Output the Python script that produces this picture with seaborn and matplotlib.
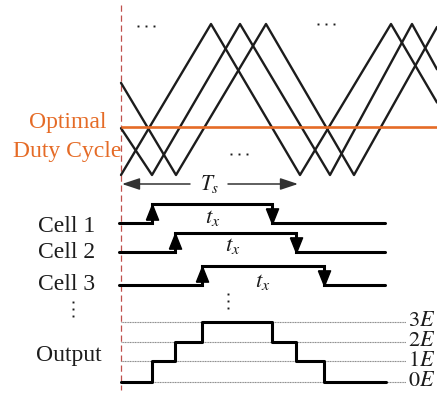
import numpy as np
import pandas as pd
import seaborn as sns
import matplotlib.pyplot as plt
from matplotlib.path import Path

sns.set_theme(style="white")
plt.rcParams['font.family'] = ['Liberation Serif', 'DejaVu Serif']
plt.rcParams['mathtext.fontset'] = 'stix'

# ---------------- data ----------------
# carrier vertices: time (px-like units) and normalised level (0 = trough, 1 = peak)
carrier1_t = [121, 211, 300, 391, 437]
carrier1_v = [0.0, 1.0, 0.0, 1.0, 0.48]
carrier2_t = [121, 152, 240, 330, 412, 437]
carrier2_v = [0.31, 0.0, 1.0, 0.0, 1.0, 0.70]
carrier3_t = [121, 176, 266, 354, 437]
carrier3_v = [0.61, 0.0, 1.0, 0.0, 0.98]
duty_level = 0.32

cell_names = ["Cell 1", "Cell 2", "Cell 3"]
cell_rise = [152, 175, 202]
cell_fall = [272, 296, 324]

output_labels = ["0E", "1E", "2E", "3E"]

# ---------------- layout (pixel frame) ----------------
W, H = 437, 396
T0, T_END_CELL = 121, 385
CAR_BOT, CAR_TOP = 175, 24
cell_low_y = [223, 252, 285]
cell_step = 19
out_y = [382, 361, 342, 322]

def lv(v):
    return CAR_BOT - np.asarray(v, float) * (CAR_BOT - CAR_TOP)

fig = plt.figure(figsize=(W / 100, H / 100), dpi=100)
ax = fig.add_axes([0, 0, 1, 1])
ax.set_xlim(0, W)
ax.set_ylim(H, 0)
ax.axis('off')

orange = '#E56B26'
dark = '#1c1c1c'

# carriers
frames = []
for name, t, v in [("A", carrier1_t, carrier1_v), ("B", carrier2_t, carrier2_v), ("C", carrier3_t, carrier3_v)]:
    frames.append(pd.DataFrame({"t": t, "y": lv(v), "carrier": name}))
car = pd.concat(frames, ignore_index=True)
sns.lineplot(data=car, x="t", y="y", units="carrier", estimator=None, sort=False,
             color=dark, lw=1.7, ax=ax, legend=False)
ax.set_xlim(0, W); ax.set_ylim(H, 0); ax.axis('off')

# optimal duty cycle line
ax.plot([T0, W], [lv(duty_level)] * 2, color=orange, lw=1.9, solid_capstyle='butt', zorder=3)
ax.text(68, 128, "Optimal", color=orange, fontsize=17, ha='center', va='baseline')
ax.text(67, 157, "Duty Cycle", color=orange, fontsize=17, ha='center', va='baseline')

# horizontal ellipsis dots
def hdots(xc, yc):
    ax.plot([xc - 8, xc, xc + 8], [yc] * 3, ls='none', marker='s', markersize=1.4,
            color=dark, markeredgewidth=0)
hdots(146, 26)
hdots(326, 24)
hdots(239, 154)

# dashed reference line
ax.plot([T0, T0], [5, 390], color='#C0504D', lw=0.9, ls=(0, (5, 3)), zorder=1)

# Ts arrow
ax.annotate("", xy=(T0 + 1, 184), xytext=(190, 184),
            arrowprops=dict(arrowstyle='-|>,head_length=0.9,head_width=0.3', color='#333333', lw=1.1,
                            shrinkA=0, shrinkB=0))
ax.annotate("", xy=(298, 184), xytext=(228, 184),
            arrowprops=dict(arrowstyle='-|>,head_length=0.9,head_width=0.3', color='#333333', lw=1.1,
                            shrinkA=0, shrinkB=0))
ax.text(210, 184, r"$T_s$", fontsize=15.5, ha='center', va='center', color=dark)

# arrow markers
up_marker = Path([(-0.4, -0.5), (0.4, -0.5), (0.0, 0.5), (-0.4, -0.5)])
down_marker = Path([(-0.4, 0.5), (0.4, 0.5), (0.0, -0.5), (-0.4, 0.5)])

tx_pos = [(213, 217), (233, 245), (263, 281)]
label_base = [232, 258, 290]
for i in range(3):
    lo = cell_low_y[i]
    hi = lo - cell_step
    ax.step([T0 - 2, cell_rise[i], cell_fall[i], T_END_CELL], [lo, hi, lo, lo], where='post',
            color='black', lw=2.2, solid_joinstyle='miter')
    ax.plot([cell_rise[i]], [hi + 7.5], marker=up_marker, markersize=11, color='black', ls='none')
    ax.plot([cell_fall[i]], [lo - 7.5], marker=down_marker, markersize=11, color='black', ls='none')
    ax.text(tx_pos[i][0], tx_pos[i][1], r"$t_x$", fontsize=16.5, ha='center', va='center', color=dark)
    ax.text(67, label_base[i], cell_names[i], fontsize=17, ha='center', va='baseline', color=dark)

# vertical dots
def vdots(xc, y0):
    ax.plot([xc] * 3, [y0, y0 + 7, y0 + 14], ls='none', marker='s', markersize=1.4,
            color=dark, markeredgewidth=0)
vdots(73, 302)
vdots(228, 294)

# output level grid
for k, y in enumerate(out_y):
    ax.plot([T0, 406], [y, y], color='#8a8a8a', lw=0.8, ls=(0, (1, 0.5)), zorder=1)
    ax.text(408, y, r"$%s%s$" % (output_labels[k][0], output_labels[k][1]), fontsize=16,
            ha='left', va='center', color=dark)

ax.text(69, 361, "Output", fontsize=17, ha='center', va='baseline', color=dark)

# output staircase = number of cells on
bps = sorted(cell_rise + cell_fall)
times = [T0] + bps + [386]
levels = [sum(1 for r, f in zip(cell_rise, cell_fall) if r <= t < f) for t in times]
ax.step(times, [out_y[l] for l in levels], where='post', color='black', lw=2.2, zorder=4)

fig.savefig("out.png", dpi=100)
